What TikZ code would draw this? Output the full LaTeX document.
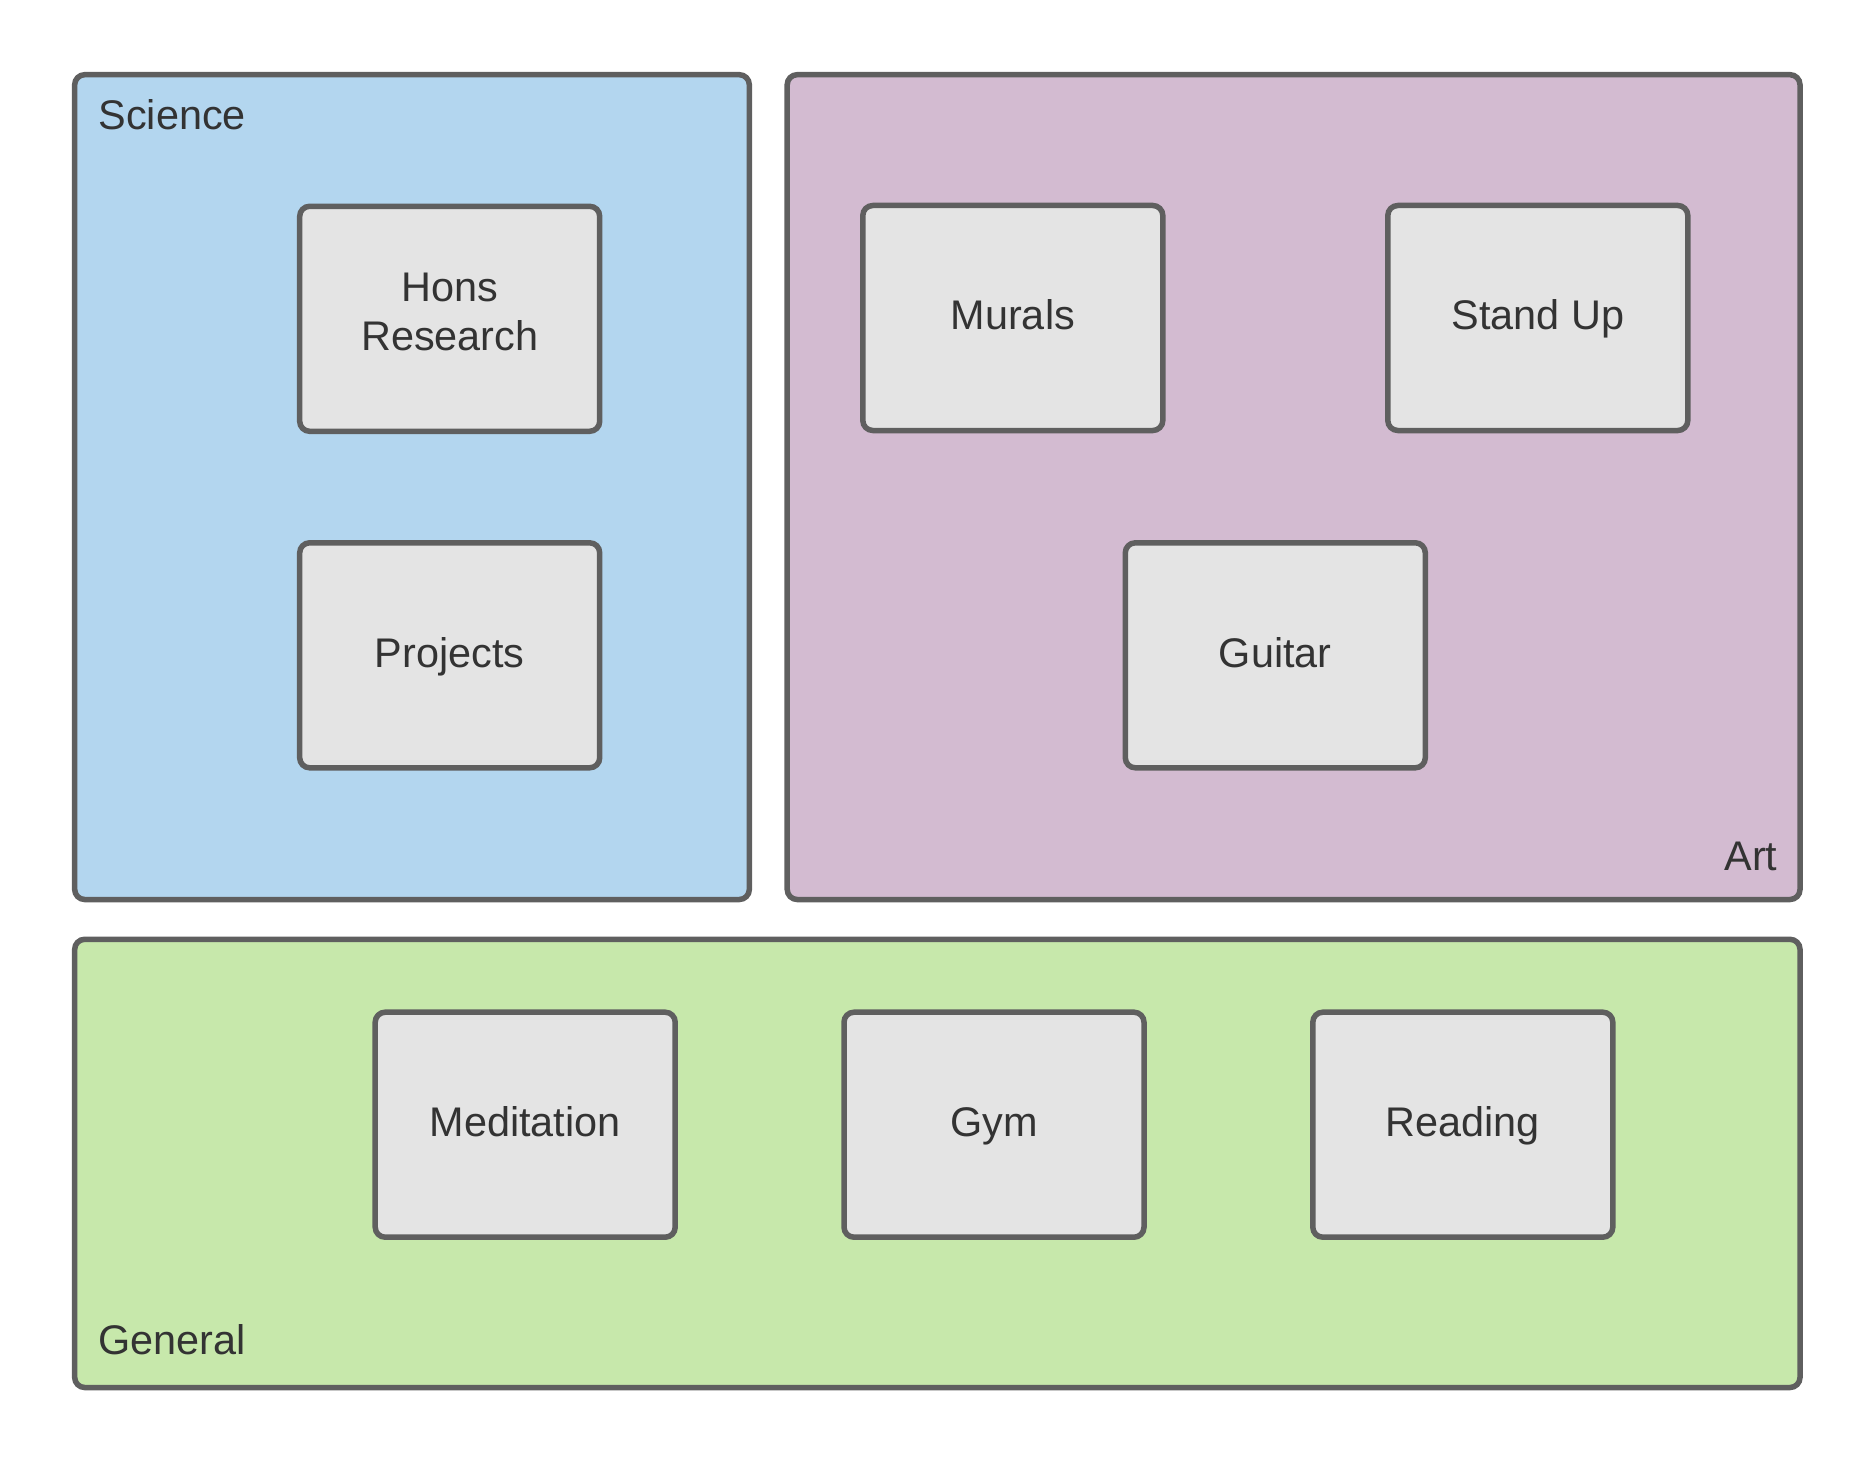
\documentclass[tikz,border=0pt]{standalone}
\usepackage{fontspec}
\setmainfont{Liberation Sans}
\definecolor{edge}{HTML}{5F5F5F}
\definecolor{txt}{HTML}{333333}
\definecolor{sci}{HTML}{B3D6EF}
\definecolor{art}{HTML}{D3BBD1}
\definecolor{gen}{HTML}{C7E8AB}
\definecolor{item}{HTML}{E4E4E4}
\begin{document}
\begin{tikzpicture}[x=1pt,y=-1pt,
  group/.style={draw=edge,line width=5.5pt,rounded corners=10pt,inner sep=0pt,outer sep=0pt},
  itembase/.style={draw=edge,fill=item,line width=5.5pt,rounded corners=10pt,minimum width=300pt,minimum height=225pt,inner sep=0pt,text=txt,font=\fontsize{41.4}{49}\selectfont,align=center},
  itembox/.style={itembase,text height=31pt,text depth=7pt},
  grouplabel/.style={text=txt,font=\fontsize{41.4}{49}\selectfont,inner sep=0pt}]
\useasboundingbox (0,0) rectangle (1875,1463);
\node[group,fill=sci,minimum width=674.6pt,minimum height=824.8pt] (science) at (412,487.1) {};
\node[group,fill=art,minimum width=1012.8pt,minimum height=824.8pt] (artbox) at (1293.6,487.1) {};
\node[group,fill=gen,minimum width=1725.3pt,minimum height=448.2pt] (general) at (937.35,1163.4) {};
\node[grouplabel,anchor=base west] (scilabel) at (98.4,129.6) {Science};
\node[grouplabel,anchor=base east] (artlabel) at (1777.5,870) {Art};
\node[grouplabel,anchor=base west] (genlabel) at (98.4,1354.8) {General};
\node[itembase,text depth=14.8pt] (hons) at (449.7,318.8) {Hons\\Research};
\node[itembox] (projects) at (449.7,655.3) {Projects};
\node[itembox] (murals) at (1012.8,318) {Murals};
\node[itembox] (standup) at (1537.8,318) {Stand Up};
\node[itembox] (guitar) at (1275.3,655.3) {Guitar};
\node[itembox] (meditation) at (525.2,1124.7) {Meditation};
\node[itembox] (gym) at (994,1124.7) {Gym};
\node[itembox] (reading) at (1462.8,1124.7) {Reading};
\end{tikzpicture}
\end{document}
